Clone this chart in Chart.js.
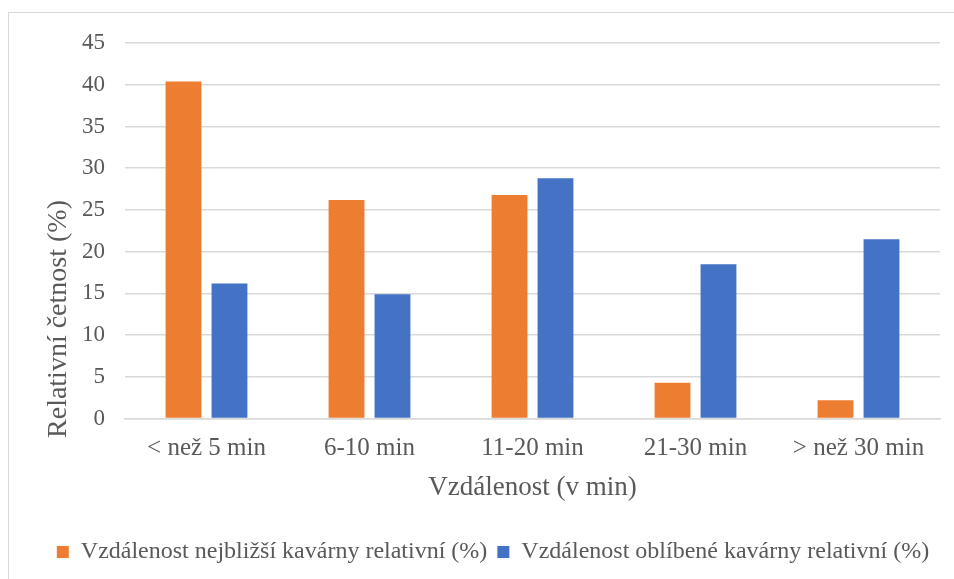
<!DOCTYPE html>
<html>
<head>
<meta charset="utf-8">
<script src="https://cdn.jsdelivr.net/npm/chart.js@4"></script>
<style>
  body{margin:0;background:#fff;}
  #ramec{position:absolute;left:8px;top:12px;width:960px;height:580px;border:1px solid #d9d9d9;box-sizing:border-box;}
  canvas{position:absolute;left:0;top:0;}
</style>
</head>
<body>
<div id="ramec"></div>
<canvas id="graf" width="954" height="579"></canvas>
<script>
const kategorie = ["< než 5 min", "6-10 min", "11-20 min", "21-30 min", "> než 30 min"];
const nejblizsi = [40.4, 26.2, 26.8, 4.3, 2.2];
const oblibene = [16.2, 14.9, 28.8, 18.5, 21.5];

const pismo = "'Liberation Serif', 'Times New Roman', serif";
const seda = "#595959";

// nadpis osy y je v Excelu posunuty dolu, tak ho kreslime sami
const nadpisY = {
  id: "nadpisY",
  afterDraw(chart){
    const ctx = chart.ctx;
    ctx.save();
    ctx.translate(59, 319);
    ctx.rotate(-Math.PI / 2);
    ctx.font = "28px " + pismo;
    ctx.fillStyle = seda;
    ctx.textAlign = "center";
    ctx.textBaseline = "middle";
    ctx.fillText("Relativní četnost (%)", 0, 0);
    ctx.restore();
  }
};

new Chart(document.getElementById("graf"), {
  type: "bar",
  data: {
    labels: kategorie,
    datasets: [
      {label: "Vzdálenost nejbližší kavárny relativní (%)", data: nejblizsi, backgroundColor: "#ed7d31"},
      {label: "Vzdálenost oblíbené kavárny relativní (%)", data: oblibene, backgroundColor: "#4472c4"}
    ]
  },
  options: {
    responsive: false,
    animation: false,
    categoryPercentage: 0.564,
    barPercentage: 0.78,
    layout: {padding: {left: 46, right: 14, top: 43, bottom: 5}},
    plugins: {
      legend: {
        position: "bottom",
        labels: {
          color: seda,
          font: {family: pismo, size: 24},
          boxWidth: 12, boxHeight: 12,
          padding: 10
        }
      },
      tooltip: {enabled: false}
    },
    scales: {
      x: {
        grid: {display: false},
        border: {color: "#d9d9d9", width: 1.5},
        ticks: {color: seda, font: {family: pismo, size: 25}, padding: 7},
        title: {display: true, text: "Vzdálenost (v min)", color: seda, font: {family: pismo, size: 27}, padding: {top: 1, bottom: 26}}
      },
      y: {
        min: 0, max: 45,
        afterFit(osa){ osa.width = 79; },
        grid: {color: "#d9d9d9", lineWidth: 1.5, drawTicks: false},
        border: {display: false},
        ticks: {stepSize: 5, color: seda, font: {family: pismo, size: 23}, padding: 20}
      }
    }
  },
  plugins: [nadpisY]
});
</script>
</body>
</html>
